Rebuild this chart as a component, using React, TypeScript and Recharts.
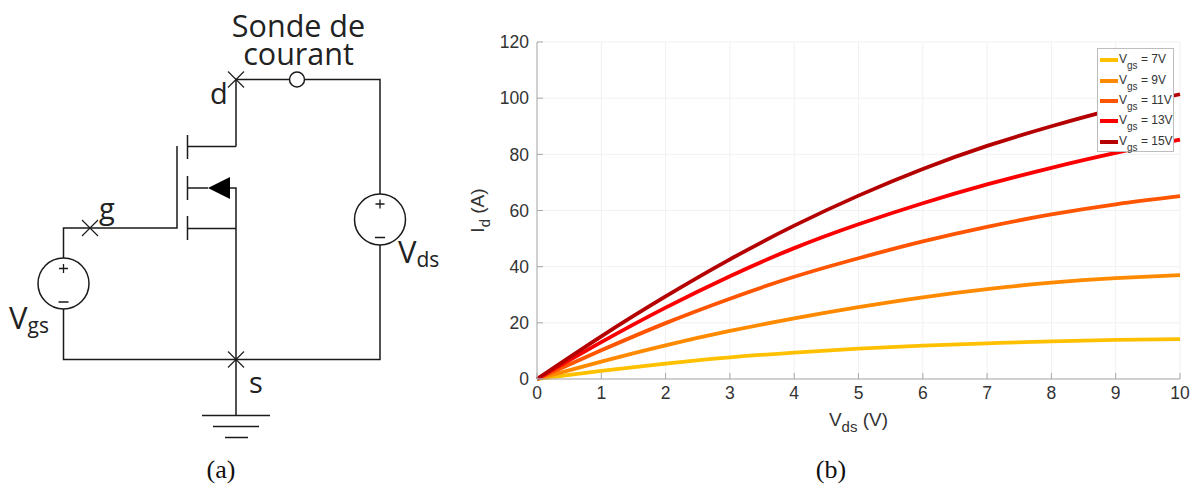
import React from 'react';
import { LineChart, Line, XAxis, YAxis, CartesianGrid, Legend, Label } from 'recharts';

const vds = [0, 1, 2, 3, 4, 5, 6, 7, 8, 9, 10];
const vgs7 = [0, 2.9, 5.5, 7.7, 9.4, 10.8, 11.9, 12.7, 13.4, 13.9, 14.2];
const vgs9 = [0, 6.2, 12, 17.1, 21.6, 25.6, 29.1, 32, 34.3, 35.9, 37];
const vgs11 = [0, 10.2, 19.9, 28.6, 36.4, 43, 49, 54.2, 58.6, 62.2, 65.1];
const vgs13 = [0, 13.1, 25.4, 36.6, 46.6, 55.1, 62.6, 69.3, 75.2, 80.5, 85.2];
const vgs15 = [0, 15.2, 29.4, 42.6, 54.6, 65.3, 74.8, 83, 90, 96.2, 101.4];
const xTicks = [0, 1, 2, 3, 4, 5, 6, 7, 8, 9, 10];
const yTicks = [0, 20, 40, 60, 80, 100, 120];

const series = [
  { key: 'v7', label: '7V', values: vgs7, color: '#ffc000' },
  { key: 'v9', label: '9V', values: vgs9, color: '#ff8a00' },
  { key: 'v11', label: '11V', values: vgs11, color: '#ff5500' },
  { key: 'v13', label: '13V', values: vgs13, color: '#fa0000' },
  { key: 'v15', label: '15V', values: vgs15, color: '#b40000' },
];

const chartData = vds.map((v, i) => {
  const row: any = { vds: v };
  series.forEach((s) => { row[s.key] = s.values[i]; });
  return row;
});

const axisFont = '"Liberation Sans", Arial, sans-serif';
const circuitFont = '"Open Sans", "Noto Sans", sans-serif';

function LegendBox() {
  return (
    <div style={{ width: 77, height: 104, boxSizing: 'border-box', background: '#fff', border: '1px solid #bdbdbd', fontFamily: axisFont, color: '#333', fontSize: 12, paddingTop: 1 }}>
      {series.map((s) => (
        <div key={s.key} style={{ display: 'flex', alignItems: 'center', height: 20.4, whiteSpace: 'nowrap' }}>
          <span style={{ display: 'inline-block', width: 18, height: 4, background: s.color, marginLeft: 2, marginRight: 1 }} />
          <span style={{ position: 'relative', top: -1 }}>V<span style={{ fontSize: 10, position: 'relative', top: 6 }}>gs</span> = {s.label}</span>
        </div>
      ))}
    </div>
  );
}

function Circuit() {
  const w = { stroke: '#1a1a1a', strokeWidth: 1.5, fill: 'none' };
  const cross = (x: number, y: number) => (
    <path d={`M${x - 8} ${y - 8}L${x + 8} ${y + 8}M${x - 8} ${y + 8}L${x + 8} ${y - 8}`} {...w} strokeWidth={1.1} />
  );
  return (
    <svg width={470} height={486} style={{ position: 'absolute', left: 0, top: 0 }}>
      <g {...w}>
        <path d="M236 146.5V79.5H289.5M304.5 79.5H380V194M380 245V359.5H63.5V309M63.5 258V228H177V146" />
        <path d="M187.5 135V159M187.5 176V200M187.5 216V240" />
        <path d="M187.5 146.5H236M187.5 188H208M230 188H236V415M187.5 228.5H236" />
        <path d="M202 415.5H270M213 426.5H259M225 437.5H248" />
        <circle cx={297} cy={79.5} r={7.5} />
        <circle cx={380} cy={219.5} r={25.5} />
        <circle cx={63.5} cy={283.5} r={25.5} />
        <path d="M375.5 204H384.5M380 199.5V208.5M375 237.5H385M59 268.5H68M63.5 264V273M58.5 302H68.5" strokeWidth={1.3} />
      </g>
      <path d="M208 188L230 177V199Z" fill="#000" />
      {cross(236, 79.5)}
      {cross(90, 228)}
      {cross(236, 359.5)}
      <g fontFamily={circuitFont} fill="#222">
        <text x={298.5} y={37} fontSize={30.5} textAnchor="middle">Sonde de</text>
        <text x={298.5} y={65} fontSize={30.5} textAnchor="middle">courant</text>
        <text x={210} y={104} fontSize={29}>d</text>
        <text x={99} y={219} fontSize={29}>g</text>
        <text x={249} y={393} fontSize={29}>s</text>
        <text x={398} y={263} fontSize={31}>V<tspan fontSize={21} dy={4}>ds</tspan></text>
        <text x={9} y={329} fontSize={31}>V<tspan fontSize={21} dy={4}>gs</tspan></text>
      </g>
      <text x={221} y={478} fontFamily='"Liberation Serif", serif' fontSize={26} textAnchor="middle" fill="#111">(a)</text>
    </svg>
  );
}

export default function App() {
  return (
    <div style={{ position: 'absolute', left: 0, top: 0, width: 1190, height: 486, background: '#fff', overflow: 'hidden' }}>
      <Circuit />
      <div style={{ position: 'absolute', left: 0, top: 0 }}>
        <LineChart width={1190} height={486} data={chartData} margin={{ top: 42, right: 10, bottom: 77, left: 487 }}>
          <CartesianGrid stroke="#f1f1f1" strokeWidth={1} horizontalValues={yTicks} verticalValues={xTicks} />
          <XAxis
            dataKey="vds"
            type="number"
            domain={[0, 10]}
            ticks={xTicks}
            height={30}
            stroke="#a8a8a8"
            tickSize={-6}
            tickMargin={14}
            tick={{ fill: '#333', fontSize: 17.5, fontFamily: axisFont }}
            interval={0}
          >
            <Label
              content={({ viewBox }: any) => (
                <g>
                  <text x={viewBox.x + viewBox.width / 2} y={viewBox.y + 47} textAnchor="middle" fontFamily={axisFont} fontSize={19} fill="#333">
                    V<tspan fontSize={15} dy={6}>ds</tspan><tspan dy={-6}> (V)</tspan>
                  </text>
                  <text x={831} y={478} fontFamily='"Liberation Serif", serif' fontSize={26} textAnchor="middle" fill="#111">(b)</text>
                </g>
              )}
            />
          </XAxis>
          <YAxis
            type="number"
            domain={[0, 120]}
            ticks={yTicks}
            width={50}
            stroke="#a8a8a8"
            tickSize={-6}
            tickMargin={14}
            tick={{ fill: '#333', fontSize: 17.5, fontFamily: axisFont }}
            interval={0}
          >
            <Label
              content={({ viewBox }: any) => {
                const cx = viewBox.x - 3;
                const cy = viewBox.y + viewBox.height / 2;
                return (
                  <text x={cx} y={cy} transform={`rotate(-90 ${cx} ${cy})`} textAnchor="middle" fontFamily={axisFont} fontSize={19} fill="#333">
                    I<tspan fontSize={15} dy={6}>d</tspan><tspan dy={-6}> (A)</tspan>
                  </text>
                );
              }}
            />
          </YAxis>
          {series.map((s) => (
            <Line key={s.key} type="natural" dataKey={s.key} stroke={s.color} strokeWidth={3.8} dot={false} isAnimationActive={false} />
          ))}
          <Legend verticalAlign="middle" content={<LegendBox />} wrapperStyle={{ left: 1097, top: 48, width: 77, bottom: 'auto', right: 'auto' }} />
        </LineChart>
      </div>
    </div>
  );
}
